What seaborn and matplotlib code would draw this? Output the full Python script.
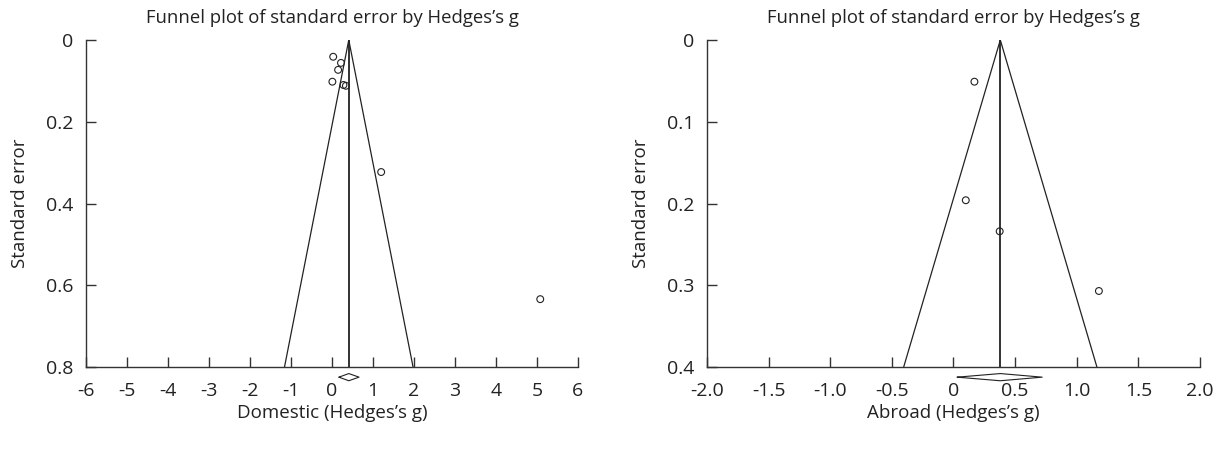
import matplotlib
matplotlib.use('Agg')
import matplotlib.pyplot as plt
import seaborn as sns
import pandas as pd

# Domestic studies (Hedges's g, standard error)
dom_g = [0.03, 0.22, 0.15, 0.01, 0.28, 0.34, 1.20, 5.08]
dom_se = [0.041, 0.056, 0.073, 0.102, 0.110, 0.112, 0.323, 0.634]
dom_mean = 0.41
dom_ci = [0.17, 0.66]

# Abroad studies
abr_g = [0.17, 0.10, 0.375, 1.18]
abr_se = [0.051, 0.196, 0.234, 0.307]
abr_mean = 0.38
abr_ci = [0.03, 0.72]

dom_xticks = [-6, -5, -4, -3, -2, -1, 0, 1, 2, 3, 4, 5, 6]
dom_xlabels = ['-6', '-5', '-4', '-3', '-2', '-1', '0', '1', '2', '3', '4', '5', '6']
dom_yticks = [0, 0.2, 0.4, 0.6, 0.8]
dom_ylabels = ['0', '0.2', '0.4', '0.6', '0.8']
abr_xticks = [-2.0, -1.5, -1.0, -0.5, 0, 0.5, 1.0, 1.5, 2.0]
abr_xlabels = ['-2.0', '-1.5', '-1.0', '-0.5', '0', '0.5', '1.0', '1.5', '2.0']
abr_yticks = [0, 0.1, 0.2, 0.3, 0.4]
abr_ylabels = ['0', '0.1', '0.2', '0.3', '0.4']

sns.set_style('ticks')
plt.rcParams['font.family'] = ['Open Sans', 'DejaVu Sans']

fig = plt.figure(figsize=(12.16, 4.5), dpi=100)
ax1 = fig.add_axes([0.0707, 0.1844, 0.4046, 0.7267])
ax2 = fig.add_axes([0.5814, 0.1844, 0.4054, 0.7267])

def funnel(ax, g, se, mean, ci, xticks, xlabels, yticks, ylabels, xlab):
    ymax = yticks[-1]
    df = pd.DataFrame({'g': g, 'se': se})
    # funnel lines and mean line
    ax.plot([mean - 1.96 * ymax, mean, mean + 1.96 * ymax], [ymax, 0, ymax],
            color='#222222', lw=0.9, zorder=2)
    ax.plot([mean, mean], [0, ymax], color='#222222', lw=1.3, zorder=2)
    sns.scatterplot(data=df, x='g', y='se', ax=ax, marker='o', s=24,
                    facecolor='none', edgecolor='#222222', linewidth=0.8,
                    zorder=3, clip_on=False)
    # summary diamond below the axis
    yd = ymax * 1.031
    h = ymax * 0.011
    ax.plot([ci[0], mean, ci[1], mean, ci[0]], [yd, yd - h, yd, yd + h, yd],
            color='#222222', lw=0.8, clip_on=False)
    ax.set_xlim(xticks[0], xticks[-1])
    ax.set_ylim(ymax, 0)
    ax.set_xticks(xticks)
    ax.set_xticklabels(xlabels)
    ax.set_yticks(yticks)
    ax.set_yticklabels(ylabels)
    ax.tick_params(direction='in', length=7, width=1, color='#333333',
                   labelsize=14, labelcolor='#222222')
    ax.tick_params(axis='x', pad=11)
    ax.tick_params(axis='y', pad=9)
    for s in ['top', 'right']:
        ax.spines[s].set_visible(False)
    for s in ['left', 'bottom']:
        ax.spines[s].set_color('#333333')
        ax.spines[s].set_linewidth(1)
    ax.set_xlabel(xlab, fontsize=13.5, color='#222222', labelpad=3)
    ax.set_ylabel('Standard error', fontsize=13.5, color='#222222', labelpad=12)
    ax.set_title('Funnel plot of standard error by Hedges\u2019s g', fontsize=13.3,
                 color='#222222', pad=12)

funnel(ax1, dom_g, dom_se, dom_mean, dom_ci, dom_xticks, dom_xlabels,
       dom_yticks, dom_ylabels, 'Domestic (Hedges\u2019s g)')
funnel(ax2, abr_g, abr_se, abr_mean, abr_ci, abr_xticks, abr_xlabels,
       abr_yticks, abr_ylabels, 'Abroad (Hedges\u2019s g)')

fig.savefig('out.png', dpi=100)
